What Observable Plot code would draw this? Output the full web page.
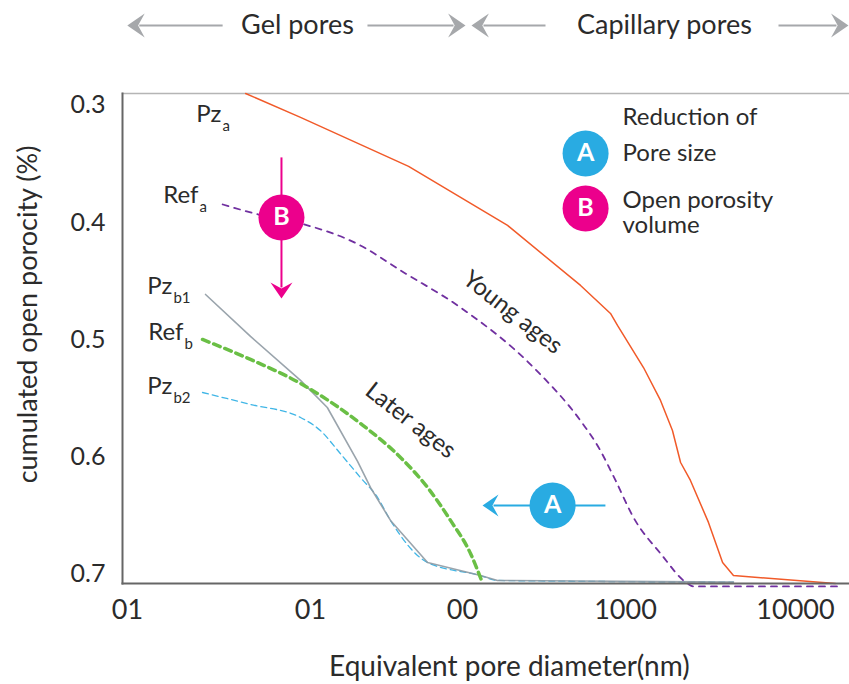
<!DOCTYPE html>
<html><head><meta charset="utf-8">
<script src="https://cdn.jsdelivr.net/npm/d3@7"></script>
<script src="https://cdn.jsdelivr.net/npm/@observablehq/plot@0.6"></script>
<style>body{margin:0;background:#fff} #chart svg{display:block}</style>
</head><body><div id="chart"></div>
<script>
// ---- axes ----
const xTicks = [1, 10, 100, 1000, 10000];
const xTickLabels = ["01", "01", "00", "1000", "10000"];
const xTickPx = [127, 310, 462, 625, 795];
const yTicks = [0.3, 0.4, 0.5, 0.6, 0.7];
const yTickLabels = ["0.3", "0.4", "0.5", "0.6", "0.7"];
const yDomain = [0.2898, 0.7077];

// ---- series (pore diameter nm, cumulated open porosity) ----
const pzA_x = [4.42, 8.82, 44.2, 189, 530, 809, 893, 1276, 1607, 1889, 2109, 2410, 3076, 3725, 4315, 17170];
const pzA_y = [0.2898, 0.3102, 0.352, 0.4023, 0.4535, 0.4774, 0.4876, 0.5235, 0.5516, 0.5772, 0.6045, 0.6198, 0.6556, 0.6898, 0.7009, 0.7077];
const refA_x = [3.31, 5.20, 8.82, 21.3, 39.1, 97, 273, 545, 673, 869, 1114, 1607, 2317, 2512, 17660];
const refA_y = [0.3844, 0.393, 0.4006, 0.4194, 0.4407, 0.4723, 0.5235, 0.5712, 0.59, 0.6198, 0.6514, 0.6821, 0.7077, 0.7102, 0.7102];
const refB_x = [2.57, 4.70, 8.82, 21.3, 39.1, 58.9, 83.4, 112, 133];
const refB_y = [0.4996, 0.5166, 0.5371, 0.5712, 0.6002, 0.6258, 0.6539, 0.6821, 0.7077];
const pzB1_x = [2.67, 4.70, 8.82, 12.9, 20.4, 24.8, 33.6, 58.9, 129, 164, 4315];
const pzB1_y = [0.4612, 0.497, 0.5345, 0.5576, 0.6036, 0.6258, 0.6539, 0.6898, 0.7009, 0.7051, 0.7065];
const pzB2_x = [2.57, 4.70, 8.82, 11.6, 15.7, 21.3, 27.6, 33.6, 58.9, 129, 164, 4315];
const pzB2_y = [0.5448, 0.555, 0.5661, 0.5772, 0.5968, 0.6173, 0.6343, 0.6539, 0.6898, 0.7009, 0.7051, 0.7065];

// ---- curve labels ----
const labelMain = ["Pz", "Ref", "Pz", "Ref", "Pz"];
const labelSub = ["a", "a", "b1", "b", "b2"];
const labelX = [3.26, 2.44, 1.76, 2.02, 1.76];
const labelY = [0.3077, 0.3768, 0.4544, 0.4936, 0.5397];

// ---- markers A / B ----
const markerLetter = ["A", "B", "A", "B"];
const markerX = [357, 6.94, 569, 569];
const markerY = [0.6411, 0.3955, 0.3409, 0.3878];
const markerColor = ["#29abe2", "#ec008c", "#29abe2", "#ec008c"];

// ---- annotation arrows ----
const arrowX1 = [6.94, 753];
const arrowY1 = [0.3443, 0.6411];
const arrowX2 = [6.94, 155];
const arrowY2 = [0.4552, 0.6411];
const arrowRot = [180, 270];
const arrowColor = ["#ec008c", "#29abe2"];

// ---- top region arrows ----
const topX1 = [3.31, 23.7, 323, 7943];
const topX2 = [1.16, 87.3, 134.5, 17420];
const topRot = [270, 90, 270, 90];
const topY = 0.2318;
const topText = ["Gel pores", "Capillary pores"];
const topTextX = [8.49, 1694];

// ---- legend ----
const legendText = ["Reduction of", "Pore size", "Open porosity\nvolume"];
const legendTextY = [0.3102, 0.3409, 0.3913];
const legendTextX = 959;

// ---- age labels ----
const ageText = ["Young ages", "Later ages"];
const ageX = [203, 45.5];
const ageY = [0.4765, 0.5687];

const rows = (xs, ys) => xs.map((x, i) => ({x, y: ys[i]}));

const dart = {
  draw(context, size) {
    const r = Math.sqrt(size / Math.PI);
    context.moveTo(0, -r);
    context.lineTo(r, 0.45 * r);
    context.lineTo(0, -0.1 * r);
    context.lineTo(-r, 0.45 * r);
    context.closePath();
  }
};

const labels = labelMain.map((m, i) => ({main: m, sub: labelSub[i], x: labelX[i], y: labelY[i]}));
const markers = markerLetter.map((l, i) => ({letter: l, x: markerX[i], y: markerY[i], color: markerColor[i]}));
const arrows = arrowX1.map((x1, i) => ({x1, y1: arrowY1[i], x2: arrowX2[i], y2: arrowY2[i], rot: arrowRot[i], color: arrowColor[i]}));
const tops = topX1.map((x1, i) => ({x1, x2: topX2[i], y: topY, rot: topRot[i]}));
const topLabels = topText.map((t, i) => ({t, x: topTextX[i], y: topY}));
const legend = legendText.map((t, i) => ({t, x: legendTextX, y: legendTextY[i]}));
const ages = ageText.map((t, i) => ({t, x: ageX[i], y: ageY[i]}));

const font = "Lato, 'Noto Sans', sans-serif";
const ink = "#2b2b2b";

const chart = Plot.plot({
  width: 849, height: 684,
  marginLeft: 122, marginRight: 0, marginTop: 93, marginBottom: 101,
  style: {fontFamily: font, fontSize: "24px", color: ink, background: "#fff", overflow: "visible"},
  x: {type: "log", domain: xTicks, range: xTickPx},
  y: {domain: yDomain, reverse: true},
  color: {type: "identity"},
  marks: [
    Plot.frame({anchor: "top", stroke: "#b5b5b5", strokeWidth: 1.5}),
    Plot.axisX({ticks: xTicks, tickFormat: d => xTickLabels[xTicks.indexOf(d)], tickSize: 0, tickPadding: 16, fontSize: 27, fill: ink, label: null}),
    Plot.axisY({ticks: yTicks, tickFormat: d => yTickLabels[yTicks.indexOf(d)], tickSize: 0, tickPadding: 17, fontSize: 25, fill: ink, label: null}),
    Plot.text(["Equivalent pore diameter(nm)"], {x: 194, y: 0.7793, text: d => d, fontSize: 28, fill: ink}),
    Plot.text(["cumulated open porocity (%)"], {x: 0.288, y: 0.4783, text: d => d, rotate: -90, fontSize: 27, fill: ink}),

    // series
    Plot.line(rows(pzB2_x, pzB2_y), {x: "x", y: "y", stroke: "#41b6e6", strokeWidth: 1.3, strokeDasharray: "6,4", curve: "monotone-x"}),
    Plot.line(rows(pzB1_x, pzB1_y), {x: "x", y: "y", stroke: "#8f9aa3", strokeWidth: 1.6, strokeOpacity: 0.9}),
    Plot.line(rows(refB_x, refB_y), {x: "x", y: "y", stroke: "#6abf45", strokeWidth: 3.5, strokeDasharray: "7,5", curve: "monotone-x"}),
    Plot.line(rows(refA_x, refA_y), {x: "x", y: "y", stroke: "#7030a0", strokeWidth: 1.8, strokeDasharray: "6,6", curve: "monotone-x"}),
    Plot.line(rows(pzA_x, pzA_y), {x: "x", y: "y", stroke: "#f15a29", strokeWidth: 1.5}),

    Plot.frame({anchor: "left", stroke: "#666", strokeWidth: 2}),
    Plot.frame({anchor: "bottom", stroke: "#666", strokeWidth: 2}),

    // curve labels
    Plot.text(labels, {x: "x", y: "y", text: "main", textAnchor: "end", fontSize: 24, fill: ink}),
    Plot.text(labels, {x: "x", y: "y", text: "sub", textAnchor: "start", dx: 1, dy: 12, fontSize: 15, fill: ink}),

    // annotation arrows
    Plot.link(arrows, {x1: "x1", y1: "y1", x2: "x2", y2: "y2", stroke: "color", strokeWidth: 2}),
    Plot.dot(arrows, {x: "x2", y: "y2", r: 11, symbol: dart, rotate: "rot", fill: "color", stroke: null}),

    // top arrows
    Plot.link(tops, {x1: "x1", x2: "x2", y1: "y", y2: "y", stroke: "#a6a8ab", strokeWidth: 2}),
    Plot.dot(tops, {x: "x2", y: "y", r: 12, symbol: dart, rotate: "rot", fill: "#a6a8ab", stroke: null}),
    Plot.text(topLabels, {x: "x", y: "y", text: "t", fontSize: 27, fill: ink}),

    // markers
    Plot.dot(markers, {x: "x", y: "y", r: 23, fill: "color", stroke: null}),
    Plot.text(markers, {x: "x", y: "y", text: "letter", fill: "white", fontWeight: "bold", fontSize: 25}),

    // legend text
    Plot.text(legend, {x: "x", y: "y", text: "t", textAnchor: "start", fontSize: 24, lineHeight: 1.05, fill: ink}),

    // ages
    Plot.text(ages, {x: "x", y: "y", text: "t", rotate: 38, fontSize: 24, fill: ink})
  ]
});
document.getElementById("chart").appendChild(chart);
</script></body></html>
